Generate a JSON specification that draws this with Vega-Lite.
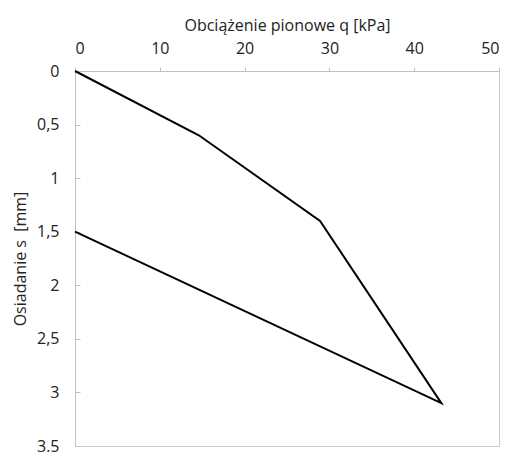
{
  "$schema": "https://vega.github.io/schema/vega-lite/v6.json",
  "autosize": "none",
  "width": 424,
  "height": 375,
  "padding": {"left": 75, "top": 71, "right": 11, "bottom": 6},
  "background": "white",
  "config": {
    "view": {"stroke": "#c8c8c8", "strokeWidth": 1},
    "font": "Open Sans"
  },
  "data": {
    "values": [
      {"step": 1, "q": 0, "s": 0},
      {"step": 2, "q": 14.6, "s": 0.6},
      {"step": 3, "q": 28.9, "s": 1.4},
      {"step": 4, "q": 43.2, "s": 3.1},
      {"step": 5, "q": 0, "s": 1.5}
    ]
  },
  "mark": {"type": "line", "color": "black", "strokeWidth": 2},
  "encoding": {
    "order": {"field": "step", "type": "quantitative"},
    "x": {
      "field": "q",
      "type": "quantitative",
      "scale": {"domain": [0, 50], "nice": false},
      "axis": {
        "orient": "top",
        "title": "Obciążenie pionowe q [kPa]",
        "values": [0, 10, 20, 30, 40, 50],
        "grid": false,
        "domainColor": "#c0c0c0",
        "tickColor": "#c0c0c0",
        "tickSize": 4,
        "labelFontSize": 16,
        "labelColor": "#222222",
        "labelPadding": 11,
        "titleFontSize": 16,
        "titleFontWeight": "normal",
        "titleColor": "#222222",
        "titlePadding": 7
      }
    },
    "y": {
      "field": "s",
      "type": "quantitative",
      "scale": {"domain": [0, 3.5], "reverse": true, "nice": false},
      "axis": {
        "title": "Osiadanie s\u00a0 [mm]",
        "values": [0, 0.5, 1, 1.5, 2, 2.5, 3, 3.5],
        "format": ".2~f",
        "labelExpr": "replace(datum.label, '.', ',')",
        "grid": false,
        "ticks": true,
        "tickSize": -5,
        "tickColor": "#c0c0c0",
        "domainColor": "#c0c0c0",
        "labelFontSize": 16,
        "labelColor": "#222222",
        "labelPadding": 21,
        "titleFontSize": 16,
        "titleFontWeight": "normal",
        "titleColor": "#222222",
        "titlePadding": 8
      }
    }
  }
}
